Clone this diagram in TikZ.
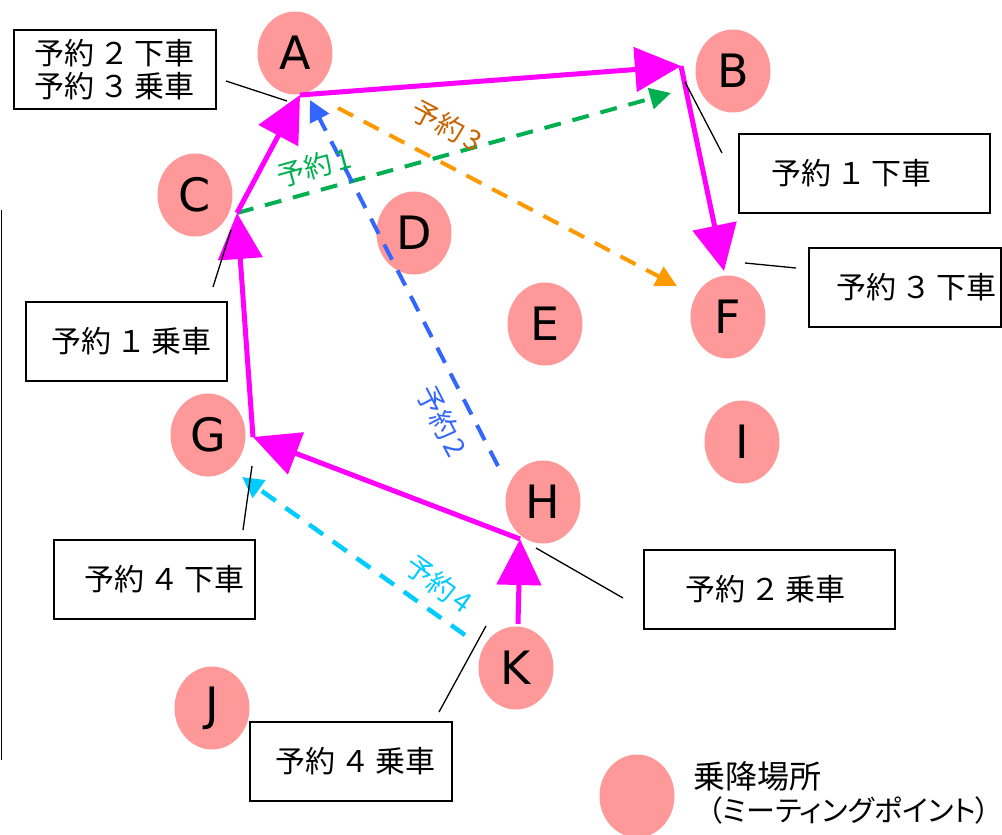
\documentclass[tikz,border=0pt]{standalone}
\usepackage{fontspec}
\usetikzlibrary{arrows.meta,shapes.geometric,calc}
\newfontfamily\jp{Noto Sans CJK JP}
\newfontfamily\jpp[RawFeature=+palt]{Noto Sans CJK JP}
\newfontfamily\lat{DejaVu Sans}
\definecolor{ptfill}{HTML}{FF9999}
\definecolor{rmag}{HTML}{FF00FF}
\definecolor{rgreen}{HTML}{00B050}
\definecolor{rblue}{HTML}{3366FF}
\definecolor{rorange}{HTML}{FF9900}
\definecolor{rorangetxt}{HTML}{C86400}
\definecolor{rcyan}{HTML}{00CCFF}
\newcommand{\dg}[1]{\kern5pt#1\kern5pt}
\tikzset{
  pt/.style={ellipse, fill=ptfill, minimum width=75pt, minimum height=83pt, inner sep=0pt,
    font=\lat\fontsize{46}{46}\selectfont},
  box/.style={draw, line width=1.5pt, inner sep=0pt, minimum height=79pt, anchor=north west,
    align=left, font=\jp\fontsize{30}{33}\selectfont},
  route/.style={rmag, line width=5pt, -{Triangle[length=46pt,width=44pt]}},
  rsv/.style={line width=4pt, dash pattern=on 17pt off 12pt, -{Triangle[length=21pt,width=21pt]}},
  lbl/.style={inner sep=0pt, font=\jp\fontsize{28}{28}\selectfont},
  callout/.style={line width=1.3pt, black},
}
\begin{document}
\begin{tikzpicture}[x=1pt,y=-1pt]
\useasboundingbox (0,0) rectangle (1002,835);
% meeting points
\node[pt] (A) at (295,53) {A};
\node[pt] (B) at (733,71) {B};
\node[pt] (C) at (195,195) {C};
\node[pt] (D) at (414,233) {D};
\node[pt] (E) at (545,324) {E};
\node[pt] (F) at (728,317) {F};
\node[pt] (G) at (208,435) {G};
\node[pt] (H) at (543,502) {H};
\node[pt] (I) at (742,442) {I};
\node[pt] (J) at (212,708) {J};
\node[pt] (K) at (516,668) {K};
\node[pt] (LG) at (637,796) {};
% legend text
\node[anchor=west, inner sep=0pt, font=\jp\fontsize{32}{32}\selectfont] (lgt1) at (693,776) {乗降場所};
\node[anchor=west, inner sep=0pt, font=\jpp\fontsize{29}{29}\selectfont] (lgt2) at (708,810) {（ミーティングポイント）};
% boxes
\node[box, text width=202pt, align=center] (b23) at (13,29) {予約\dg{２}下車\\予約\dg{３}乗車};
\node[box, text width=251pt] (b1g) at (738,133) {\hspace*{33pt}\mbox{予約\dg{１}下車}};
\node[box, text width=192pt] (b3g) at (808,247) {\hspace*{28pt}\mbox{予約\dg{３}下車}};
\node[box, text width=201pt] (b1j) at (25,301) {\hspace*{26pt}\mbox{予約\dg{１}乗車}};
\node[box, text width=201pt] (b4g) at (53,539) {\hspace*{31pt}\mbox{予約\dg{４}下車}};
\node[box, text width=202pt] (b4j) at (249,721) {\hspace*{26pt}\mbox{予約\dg{４}乗車}};
\node[box, text width=251pt] (b2j) at (643,549) {\hspace*{42pt}\mbox{予約\dg{２}乗車}};
% left vertical line
\coordinate (vt) at (1.5,210);
\coordinate (vb) at (1.5,760);
\draw[line width=1.5pt] (vt) -- (vb);
% route waypoints
\coordinate (pK) at (518,624);
\coordinate (pH) at (520,539);
\coordinate (pG) at (253,437);
\coordinate (pC) at (237,213);
\coordinate (pA) at (300,95);
\coordinate (pB) at (681,66);
\coordinate (pF) at (724,271);
% reservation dashed lines
\coordinate (gE) at (671,93);
\coordinate (bS) at (498,466);
\coordinate (bE) at (310,100);
\coordinate (oS) at (338,108);
\coordinate (oE) at (677,286);
\coordinate (cS) at (465,635);
\coordinate (cE) at (242,477);
\draw[rsv, rgreen] (pC) -- (gE);
\draw[rsv, rblue] (bS) -- (bE);
\draw[rsv, rorange] (oS) -- (oE);
\draw[rsv, rcyan, line width=4.5pt] (cS) -- (cE);
% route
\draw[route] (pK) -- (pH);
\draw[route] (pH) -- (pG);
\draw[route] (pG) -- (pC);
\draw[route] (pC) -- (pA);
\draw[route] (pA) -- (pB);
\draw[route] (pB) -- (pF);
% labels
\node[lbl, text=rgreen, rotate=15.6] (l1) at (314,167) {予約\kern4pt 1};
\node[lbl, text=rorangetxt, rotate=-27.6] (l3) at (447,126) {予約\kern4pt 3};
\node[lbl, text=rblue, rotate=-62.6] (l2) at (442,421) {予約\kern4pt 2};
\node[lbl, text=rcyan, rotate=-35.3] (l4) at (439,584) {予約\kern4pt 4};
% callout lines
\coordinate (a1) at (226,81);  \coordinate (a2) at (287,101);
\coordinate (bb1) at (685,82); \coordinate (bb2) at (722,153);
\coordinate (f1) at (745,263); \coordinate (f2) at (796,268);
\coordinate (cc1) at (231,230); \coordinate (cc2) at (213,287);
\coordinate (g1) at (252,466); \coordinate (g2) at (243,530);
\coordinate (h1) at (536,548); \coordinate (h2) at (623,598);
\coordinate (k1) at (486,626); \coordinate (k2) at (439,712);
\draw[callout] (a1) -- (a2);
\draw[callout] (bb1) -- (bb2);
\draw[callout] (f1) -- (f2);
\draw[callout] (cc1) -- (cc2);
\draw[callout] (g1) -- (g2);
\draw[callout] (h1) -- (h2);
\draw[callout] (k1) -- (k2);
\end{tikzpicture}
\end{document}
